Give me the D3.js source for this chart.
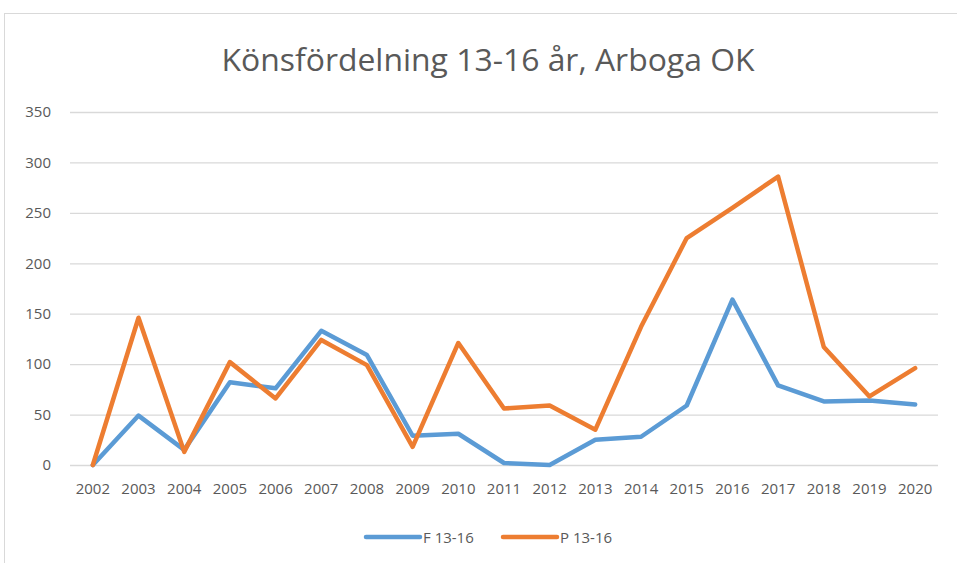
<!DOCTYPE html>
<html>
<head>
<meta charset="utf-8">
<script src="https://cdn.jsdelivr.net/npm/d3@7"></script>
<style>
  body { margin: 0; background: #fff; }
  svg { display: block; font-family: "Open Sans", "Noto Sans", sans-serif; }
</style>
</head>
<body>
<div id="chart"></div>
<script>
// chart data
var years = ['2002','2003','2004','2005','2006','2007','2008','2009','2010','2011',
             '2012','2013','2014','2015','2016','2017','2018','2019','2020'];
var fValues = [0, 49, 15, 82, 76, 133, 109, 29, 31, 2, 0, 25, 28, 59, 164, 79, 63, 64, 60];
var pValues = [0, 146, 13, 102, 66, 124, 99, 18, 121, 56, 59, 35, 137, 225, 255, 286, 117, 68, 96];
var yTicks = [0, 50, 100, 150, 200, 250, 300, 350];
var seriesNames = ['F 13-16', 'P 13-16'];
var colors = ['#5B9BD5', '#ED7D31'];

var width = 957, height = 563;
var svg = d3.select('#chart').append('svg')
    .attr('width', width).attr('height', height);

// frame
svg.append('rect')
    .attr('x', 4.5).attr('y', 13.5)
    .attr('width', 1000).attr('height', 700)
    .attr('fill', 'none').attr('stroke', '#d9d9d9');

svg.append('text')
    .attr('x', 488).attr('y', 71)
    .attr('text-anchor', 'middle')
    .attr('font-size', 31)
    .attr('textLength', 533)
    .attr('lengthAdjust', 'spacingAndGlyphs')
    .attr('fill', '#595959')
    .text('Könsfördelning 13-16 år, Arboga OK');

var x = d3.scaleBand().domain(years).range([70, 938]);
var y = d3.scaleLinear().domain([0, 350]).range([465, 112]);

// gridlines
svg.append('g')
    .attr('transform', 'translate(70,0)')
    .call(d3.axisLeft(y).tickValues(yTicks).tickSize(-868).tickFormat(''))
    .call(function(g) {
      g.select('.domain').remove();
      g.selectAll('line').attr('stroke', '#d9d9d9').attr('stroke-width', 1.3);
    });

// y labels
svg.append('g')
    .attr('transform', 'translate(51,0)')
    .call(d3.axisLeft(y).tickValues(yTicks).tickSize(0))
    .call(function(g) {
      g.select('.domain').remove();
      g.selectAll('text').attr('fill', '#595959').attr('font-size', 15)
        .attr('font-family', '"Open Sans", sans-serif').attr('x', 0);
    });

// x labels
svg.append('g')
    .attr('transform', 'translate(0,465)')
    .call(d3.axisBottom(x).tickSize(0).tickPadding(18))
    .call(function(g) {
      g.select('.domain').remove();
      g.selectAll('text').attr('fill', '#595959').attr('font-size', 15)
        .attr('font-family', '"Open Sans", sans-serif');
    });

var line = d3.line()
    .x(function(d, i) { return x(years[i]) + x.bandwidth() / 2; })
    .y(function(d) { return y(d); });

[fValues, pValues].forEach(function(vals, i) {
  svg.append('path')
      .datum(vals)
      .attr('d', line)
      .attr('fill', 'none')
      .attr('stroke', colors[i])
      .attr('stroke-width', 4.5)
      .attr('stroke-linejoin', 'round')
      .attr('stroke-linecap', 'round');
});

// legend
var legend = svg.append('g');
seriesNames.forEach(function(name, i) {
  var lx = 366 + i * 137;
  legend.append('line')
      .attr('x1', lx).attr('x2', lx + 54)
      .attr('y1', 537).attr('y2', 537)
      .attr('stroke', colors[i]).attr('stroke-width', 4.5)
      .attr('stroke-linecap', 'round');
  legend.append('text')
      .attr('x', lx + 57).attr('y', 542.5)
      .attr('font-size', 15).attr('fill', '#595959')
      .text(name);
});
</script>
</body>
</html>
